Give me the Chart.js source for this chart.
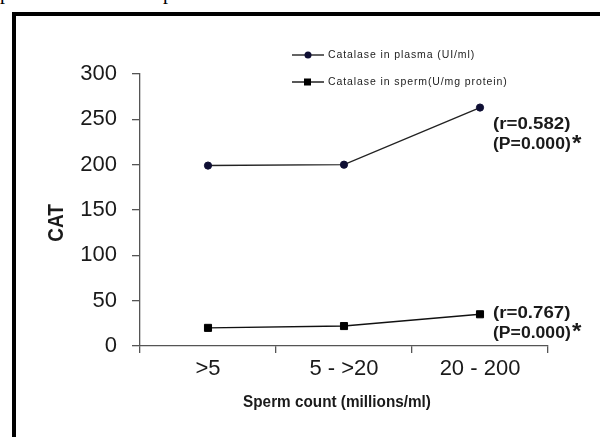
<!DOCTYPE html>
<html>
<head>
<meta charset="utf-8">
<title>CAT vs sperm count</title>
<script src="https://cdn.jsdelivr.net/npm/chart.js@4/dist/chart.umd.min.js"></script>
<style>
	html, body { margin: 0; padding: 0; background: #fff; }
	#wrap { position: relative; width: 600px; height: 437px; overflow: hidden; }
	#frame { position: absolute; left: 12px; top: 12px; width: 700px; height: 600px;
		border-left: 4px solid #000; border-top: 4px solid #000; }
	.cut { position: absolute; top: -18px; font: 20px "Liberation Serif", serif; line-height: 1; color: #000; }
	#chart { position: absolute; left: 0; top: 0; }
</style>
</head>
<body>
<div id="wrap">
	<span class="cut" style="left:0px">p</span>
	<span class="cut" style="left:163px">p</span>
	<div id="frame"></div>
	<canvas id="chart" width="600" height="437"></canvas>
</div>
<script>
	// data
	const categories = ['>5', '5 - >20', '20 - 200'];
	const plasmaValues = [199, 200, 263];
	const spermValues = [20, 22, 35];
	const seriesLabels = ['Catalase in plasma (UI/ml)', 'Catalase in sperm(U/mg protein)'];
	const yMin = 0;
	const yMax = 300;
	const yStep = 50;
	const xTitle = 'Sperm count (millions/ml)';
	const yTitle = 'CAT';
	const statNotes = [
		['(r=0.582)', '(P=0.000)'],
		['(r=0.767)', '(P=0.000)']
	];

	// offsets of the r / P notes from the last point of each series
	const noteOffsets = [
		{ dx: 13, r: 17, p: 37 },
		{ dx: 13, r: -1, p: 19 }
	];

	/**
	 * Legend drawn as a column, like the original figure
	 */
	const legendColumn = {
		id: 'legendColumn',
		afterDraw(chart) {
			const ctx = chart.ctx;
			ctx.save();
			chart.data.datasets.forEach((ds, i) => {
				const y = 55 + i * 27;
				ctx.strokeStyle = ds.borderColor;
				ctx.lineWidth = 1.4;
				ctx.beginPath();
				ctx.moveTo(292, y);
				ctx.lineTo(324, y);
				ctx.stroke();
				ctx.fillStyle = ds.pointBackgroundColor;
				if (ds.pointStyle === 'rect') {
					ctx.fillRect(304, y - 3.5, 7, 7);
				} else {
					ctx.beginPath();
					ctx.arc(308, y, 3.5, 0, Math.PI * 2);
					ctx.fill();
				}
				ctx.fillStyle = '#222';
				ctx.font = '10.5px Arial, "Liberation Sans", sans-serif';
				ctx.letterSpacing = '0.9px';
				ctx.textBaseline = 'middle';
				ctx.textAlign = 'left';
				ctx.fillText(ds.label, 328, y);
			});
			ctx.restore();
		}
	};

	/**
	 * Axis titles and the r / P notes next to the last points
	 */
	const figureText = {
		id: 'figureText',
		afterDraw(chart) {
			const ctx = chart.ctx;
			ctx.save();
			ctx.fillStyle = '#1a1a1a';
			ctx.textAlign = 'center';
			ctx.textBaseline = 'middle';

			// x title (narrow bold face)
			ctx.save();
			ctx.translate(337, 402);
			ctx.scale(0.9, 1);
			ctx.font = 'bold 17px Arial, "Liberation Sans", sans-serif';
			ctx.fillText(xTitle, 0, 0);
			ctx.restore();

			// y title
			ctx.save();
			ctx.translate(57, 223);
			ctx.rotate(-Math.PI / 2);
			ctx.scale(1, 1.2);
			ctx.font = 'bold 19px Arial, "Liberation Sans", sans-serif';
			ctx.fillText(yTitle, 0, 0);
			ctx.restore();

			// notes
			ctx.textAlign = 'left';
			chart.data.datasets.forEach((ds, i) => {
				const meta = chart.getDatasetMeta(i);
				const last = meta.data[meta.data.length - 1];
				const off = noteOffsets[i];
				const x = last.x + off.dx;

				ctx.save();
				ctx.translate(x, last.y + off.r);
				ctx.scale(1.1, 1);
				ctx.font = 'bold 17px Arial, "Liberation Sans", sans-serif';
				ctx.fillText(statNotes[i][0], 0, 0);
				ctx.restore();

				ctx.save();
				ctx.translate(x, last.y + off.p);
				ctx.scale(1.1, 1);
				ctx.font = 'bold 16px Arial, "Liberation Sans", sans-serif';
				ctx.fillText(statNotes[i][1], 0, 0);
				const w = ctx.measureText(statNotes[i][1]).width;
				ctx.font = 'bold 22px Arial, "Liberation Sans", sans-serif';
				ctx.textBaseline = 'alphabetic';
				ctx.fillText('*', w + 1, 5);
				ctx.restore();
			});
			ctx.restore();
		}
	};

	const ctx = document.getElementById('chart').getContext('2d');
	new Chart(ctx, {
		type: 'line',
		data: {
			labels: categories,
			datasets: [{
				label: seriesLabels[0],
				data: plasmaValues,
				borderColor: '#222',
				borderWidth: 1.4,
				pointStyle: 'circle',
				pointRadius: 3.6,
				pointBackgroundColor: '#0e0e33',
				pointBorderColor: '#0e0e33',
				pointBorderWidth: 1,
				tension: 0,
				clip: false
			}, {
				label: seriesLabels[1],
				data: spermValues,
				borderColor: '#111',
				borderWidth: 1.4,
				pointStyle: 'rect',
				pointRadius: 5,
				pointBackgroundColor: '#000',
				pointBorderColor: '#000',
				pointBorderWidth: 1,
				tension: 0,
				clip: false
			}]
		},
		options: {
			responsive: false,
			animation: false,
			layout: {
				padding: { left: 0, top: 74, right: 52, bottom: 0 }
			},
			plugins: {
				legend: { display: false },
				tooltip: { enabled: false }
			},
			scales: {
				x: {
					type: 'category',
					offset: true,
					grid: {
						offset: true,
						drawOnChartArea: false,
						tickLength: 7,
						color: '#555',
						lineWidth: 1.3
					},
					border: { display: true, color: '#555', width: 1.3 },
					ticks: {
						padding: 3,
						color: '#1a1a1a',
						maxRotation: 0,
						font: { family: 'Arial, "Liberation Sans", sans-serif', size: 22 }
					},
					afterFit: function(scale) { scale.height = 91; }
				},
				y: {
					min: yMin,
					max: yMax,
					ticks: {
						stepSize: yStep,
						padding: 15,
						color: '#1a1a1a',
						font: { family: 'Arial, "Liberation Sans", sans-serif', size: 22 }
					},
					grid: {
						drawOnChartArea: false,
						tickLength: 8,
						color: '#555',
						lineWidth: 1.3
					},
					border: { display: true, color: '#555', width: 1.3 },
					afterFit: function(scale) { scale.width = 140; }
				}
			}
		},
		plugins: [legendColumn, figureText]
	});
</script>
</body>
</html>
